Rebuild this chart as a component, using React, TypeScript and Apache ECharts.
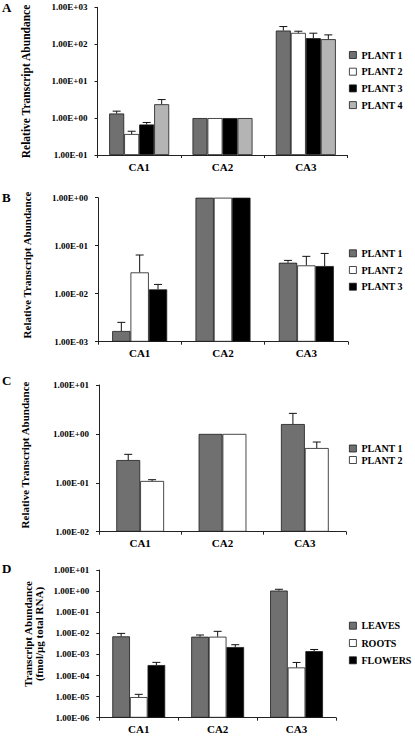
import React, { useEffect, useRef } from "react";
import * as echarts from "echarts";

// ---------- data ----------
const categories = ["CA1", "CA2", "CA3"];

// Panel A (relative transcript abundance, 4 plants)
const plantA1 = [1.33, 1.0, 235];
const plantA2 = [0.37, 1.0, 203];
const plantA3 = [0.67, 1.0, 146];
const plantA4 = [2.37, 1.0, 137];
const errA1 = [1.54, null, 301];
const errA2 = [0.44, null, 225];
const errA3 = [0.76, null, 199];
const errA4 = [3.17, null, 179];
const ticksA = ["1.00E-01", "1.00E+00", "1.00E+01", "1.00E+02", "1.00E+03"];

// Panel B (3 plants)
const plantB1 = [0.00167, 1.0, 0.0442];
const plantB2 = [0.0278, 1.0, 0.0389];
const plantB3 = [0.0123, 1.0, 0.0377];
const errB1 = [0.00253, null, 0.0494];
const errB2 = [0.064, null, 0.06];
const errB3 = [0.0156, null, 0.069];
const ticksB = ["1.00E-03", "1.00E-02", "1.00E-01", "1.00E+00"];

// Panel C (2 plants)
const plantC1 = [0.292, 1.0, 1.59];
const plantC2 = [0.109, 1.0, 0.514];
const errC1 = [0.382, null, 2.63];
const errC2 = [0.1157, null, 0.682];
const ticksC = ["1.00E-02", "1.00E-01", "1.00E+00", "1.00E+01"];

// Panel D (absolute abundance by tissue)
const leaves = [0.00716, 0.0069, 1.06];
const roots = [0.0000095, 0.0069, 0.000241];
const flowers = [0.000313, 0.00223, 0.00143];
const errLeaves = [0.0099, 0.0083, 1.22];
const errRoots = [0.0000128, 0.0124, 0.000415];
const errFlowers = [0.000419, 0.00288, 0.00171];
const ticksD = [
  "1.00E-06", "1.00E-05", "1.00E-04", "1.00E-03",
  "1.00E-02", "1.00E-01", "1.00E+00", "1.00E+01",
];

const namesPlant = ["PLANT 1", "PLANT 2", "PLANT 3", "PLANT 4"];
const namesTissue = ["LEAVES", "ROOTS", "FLOWERS"];
const panelLetters = ["A", "B", "C", "D"];
const yTitles = [
  "Relative Transcript Abundance",
  "Relative Transcript Abundance",
  "Relative Transcript Abundance",
  "Transcript Abundance\n(fmol/\u03bcg total RNA)",
];

// ---------- styling ----------
const FONT = "'Liberation Serif', 'Times New Roman', serif";
const GRAY = "#707070";
const LIGHT = "#b4b4b4";
const WHITE = "#ffffff";
const BLACK = "#000000";
const AXIS = "#222222";

type Panel = {
  grid: { left: number; top: number; width: number; height: number };
  gap: number; // fraction of band left empty
  ticks: string[];
  names: string[];
  colors: string[];
  values: number[][];
  errs: (number | null)[][];
  legend: { left: number; top: number; gap: number };
  letterY: number;
  titleX: number;
  titleY: number;
  titleSize: number;
};

const panels: Panel[] = [
  {
    grid: { left: 97.5, top: 7.3, width: 250, height: 147.7 },
    gap: 0.28,
    ticks: ticksA,
    names: namesPlant,
    colors: [GRAY, WHITE, BLACK, LIGHT],
    values: [plantA1, plantA2, plantA3, plantA4],
    errs: [errA1, errA2, errA3, errA4],
    legend: { left: 349, top: 50, gap: 6.7 },
    letterY: 7.5,
    titleX: 25.5,
    titleY: 81.5,
    titleSize: 11.5,
  },
  {
    grid: { left: 98, top: 197.7, width: 250, height: 144 },
    gap: 0.34,
    ticks: ticksB,
    names: namesPlant.slice(0, 3),
    colors: [GRAY, WHITE, BLACK],
    values: [plantB1, plantB2, plantB3],
    errs: [errB1, errB2, errB3],
    legend: { left: 349, top: 248.3, gap: 6.7 },
    letterY: 198,
    titleX: 26.5,
    titleY: 265,
    titleSize: 11,
  },
  {
    grid: { left: 99, top: 385, width: 247, height: 146.7 },
    gap: 0.42,
    ticks: ticksC,
    names: namesPlant.slice(0, 2),
    colors: [GRAY, WHITE],
    values: [plantC1, plantC2],
    errs: [errC1, errC2],
    legend: { left: 349, top: 443.5, gap: 1.5 },
    letterY: 381,
    titleX: 24.7,
    titleY: 455,
    titleSize: 11,
  },
  {
    grid: { left: 99.3, top: 570, width: 236.7, height: 147.7 },
    gap: 0.33,
    ticks: ticksD,
    names: namesTissue,
    colors: [GRAY, WHITE, BLACK],
    values: [leaves, roots, flowers],
    errs: [errLeaves, errRoots, errFlowers],
    legend: { left: 349, top: 620.7, gap: 7.3 },
    letterY: 569,
    titleX: 33.8,
    titleY: 634,
    titleSize: 11,
  },
];

function buildOption() {
  const grid: any[] = [];
  const xAxis: any[] = [];
  const yAxis: any[] = [];
  const series: any[] = [];
  const legend: any[] = [];
  const graphic: any[] = [];

  panels.forEach((p, k) => {
    const minV = parseFloat(p.ticks[0]);
    const maxV = parseFloat(p.ticks[p.ticks.length - 1]);
    const minExp = Math.round(Math.log10(minV));
    grid.push({ ...p.grid, containLabel: false });
    xAxis.push({
      type: "category",
      gridIndex: k,
      data: categories,
      axisLine: { show: true, lineStyle: { color: AXIS, width: 1 } },
      axisTick: { show: true, length: 3, lineStyle: { color: AXIS } },
      axisLabel: {
        fontSize: 11,
        fontWeight: "bold",
        fontFamily: FONT,
        color: BLACK,
        margin: 6,
      },
      splitLine: { show: false },
    });
    yAxis.push({
      type: "log",
      logBase: 10,
      gridIndex: k,
      min: minV,
      max: maxV,
      startValue: minV,
      axisLine: { show: true, lineStyle: { color: AXIS, width: 1 } },
      axisTick: { show: true, length: 3, lineStyle: { color: AXIS } },
      minorTick: { show: false },
      splitLine: { show: false },
      axisLabel: {
        fontSize: 9,
        fontWeight: "bold",
        fontFamily: FONT,
        color: BLACK,
        margin: 10,
        formatter: (v: number) => {
          const idx = Math.round(Math.log10(v)) - minExp;
          return p.ticks[idx] ?? "";
        },
      },
    });

    const n = p.values.length;
    p.values.forEach((vals, i) => {
      series.push({
        type: "bar",
        name: p.names[i],
        xAxisIndex: k,
        yAxisIndex: k,
        data: vals,
        barGap: "0%",
        barCategoryGap: Math.round(p.gap * 100) + "%",
        itemStyle: { color: p.colors[i], borderColor: "#1a1a1a", borderWidth: 0.8 },
        silent: true,
        emphasis: { disabled: true },
      });
    });
    p.errs.forEach((errs, i) => {
      const data: number[][] = [];
      errs.forEach((e, ci) => {
        if (e != null && e > p.values[i][ci]) data.push([ci, p.values[i][ci], e]);
      });
      series.push({
        type: "custom",
        name: "err" + k + "_" + i,
        xAxisIndex: k,
        yAxisIndex: k,
        silent: true,
        z: 5,
        data,
        encode: { x: 0, y: 1 },
        renderItem: (params: any, api: any) => {
          const ci = api.value(0);
          const v = api.value(1);
          const e = api.value(2);
          const p0 = api.coord([ci, v]);
          const p1 = api.coord([ci, e]);
          const band = api.size([1, 0])[0];
          const barW = (band * (1 - p.gap)) / n;
          const x = p0[0] + (i - (n - 1) / 2) * barW;
          const cap = 4;
          const style = { stroke: "#111", lineWidth: 1 };
          return {
            type: "group",
            children: [
              { type: "line", shape: { x1: x, y1: p0[1], x2: x, y2: p1[1] }, style },
              { type: "line", shape: { x1: x - cap, y1: p1[1], x2: x + cap, y2: p1[1] }, style },
            ],
          };
        },
      });
    });

    legend.push({
      orient: "vertical",
      left: p.legend.left,
      top: p.legend.top,
      itemWidth: 7,
      itemHeight: 7,
      itemGap: p.legend.gap,
      icon: "rect",
      selectedMode: false,
      data: p.names,
      itemStyle: { borderColor: "#1a1a1a", borderWidth: 0.8 },
      textStyle: {
        fontSize: 10,
        fontWeight: "bold",
        fontFamily: FONT,
        color: BLACK,
        lineHeight: 10,
      },
      padding: 0,
    });

    graphic.push({
      type: "text",
      left: 2,
      top: p.letterY - 7,
      style: {
        text: panelLetters[k],
        fontSize: 13,
        fontWeight: "bold",
        fontFamily: FONT,
        fill: BLACK,
      },
    });
    graphic.push({
      type: "text",
      x: p.titleX,
      y: p.titleY,
      rotation: Math.PI / 2,
      style: {
        text: yTitles[k],
        fontSize: p.titleSize,
        fontWeight: "bold",
        fontFamily: FONT,
        fill: BLACK,
        align: "center",
        verticalAlign: "middle",
        lineHeight: 11,
      },
    });
  });

  return {
    animation: false,
    backgroundColor: "#ffffff",
    grid,
    xAxis,
    yAxis,
    series,
    legend,
    graphic,
  };
}

export default function App() {
  const ref = useRef<HTMLDivElement>(null);
  useEffect(() => {
    if (!ref.current) return;
    const chart = echarts.init(ref.current, undefined, { renderer: "svg" });
    chart.setOption(buildOption() as any);
    return () => chart.dispose();
  }, []);
  return (
    <div
      ref={ref}
      style={{ position: "absolute", left: 0, top: 0, width: 415, height: 738, background: "#fff" }}
    />
  );
}
